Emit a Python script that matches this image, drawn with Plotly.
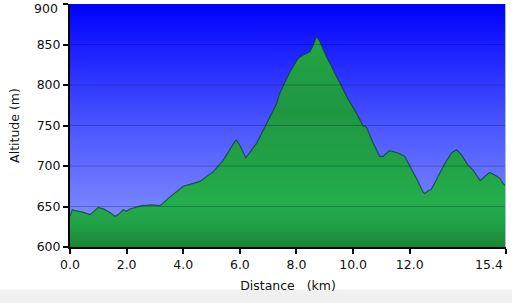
import plotly.graph_objects as go

distance_km = [0.0, 0.08, 0.18, 0.45, 0.71, 1.0, 1.18, 1.4, 1.59, 1.7, 1.88, 2.0, 2.12, 2.53,
               2.88, 3.18, 3.47, 3.7, 4.0, 4.3, 4.59, 5.06, 5.41, 5.82, 5.88, 6.02, 6.21,
               6.59, 6.94, 7.3, 7.41, 7.77, 8.06, 8.24, 8.47, 8.59, 8.71, 8.82, 9.06,
               9.41, 9.77, 10.12, 10.35, 10.47, 10.71, 10.94, 11.06, 11.29, 11.59, 11.82,
               12.06, 12.29, 12.47, 12.53, 12.68, 12.76, 13.0, 13.24, 13.47, 13.65, 13.82,
               14.06, 14.24, 14.35, 14.49, 14.65, 14.82, 15.0, 15.18, 15.29, 15.4]
altitude_m = [638, 646, 645, 643, 640, 649, 647, 643, 638, 640, 646, 644, 647, 651,
              652, 651, 660, 667, 675, 678, 681, 693, 707, 730, 732, 724, 710,
              728, 753, 777, 790, 816, 833, 837, 841, 849, 860, 854, 835,
              810, 786, 765, 750, 748, 728, 712, 712, 719, 716, 712,
              697, 681, 668, 666, 670, 671, 687, 703, 716, 720, 714,
              701, 695, 689, 682, 687, 692, 689, 685, 679, 675]

x_ticks = [0.0, 2.0, 4.0, 6.0, 8.0, 10.0, 12.0, 15.4]
x_tick_labels = ["0.0", "2.0", "4.0", "6.0", "8.0", "10.0", "12.0", "15.4"]
y_ticks = [600, 650, 700, 750, 800, 850, 900]
y_tick_labels = ["600", "650", "700", "750", "800", "850", "900"]
x_range = [0.0, 15.4]
y_range = [600, 900]

font = "DejaVu Sans, Verdana, sans-serif"
fsize = 12.5

fig = go.Figure()

# blue gradient plot background
fig.add_trace(go.Scatter(
    x=[x_range[0], x_range[1], x_range[1], x_range[0], x_range[0]],
    y=[y_range[0], y_range[0], y_range[1], y_range[1], y_range[0]],
    mode="none", fill="toself", hoverinfo="skip", showlegend=False,
    fillgradient=dict(type="vertical", start=y_range[0], stop=y_range[1],
                      colorscale=[[0, "#8c9aff"], [0.5, "#4a56ff"], [1, "#0000ff"]]),
))

# green altitude profile
fig.add_trace(go.Scatter(
    x=distance_km, y=altitude_m, mode="lines",
    line=dict(color="rgba(20,60,50,0.75)", width=1.2),
    fill="tozeroy", hoverinfo="skip", showlegend=False,
    fillgradient=dict(type="vertical", start=600, stop=860,
                      colorscale=[[0, "#1b8436"], [0.1, "#20a045"], [0.22, "#24ae4c"],
                                  [0.4, "#21a247"], [0.65, "#1f9741"], [1, "#23a646"]]),
))

shapes = []
for yv in y_ticks[1:-1]:
    shapes.append(dict(type="line", xref="x", yref="y", x0=x_range[0], x1=x_range[1],
                       y0=yv, y1=yv, line=dict(color="rgba(0,0,40,0.25)", width=1),
                       layer="above"))
# right edge line
shapes.append(dict(type="line", xref="x", yref="paper", x0=x_range[1], x1=x_range[1],
                   y0=0, y1=1, line=dict(color="#9cc8c8", width=2), layer="above"))
# bottom grey strip
shapes.append(dict(type="rect", xref="paper", yref="paper", x0=-0.2, x1=1.05,
                   y0=-0.232, y1=-0.176, fillcolor="#f0f0f0", line=dict(width=0),
                   layer="below"))

# edge tick labels drawn as annotations so they stay inside the page
annotations = [
    dict(x=x_ticks[-1], y=0, xref="x", yref="paper", text=x_tick_labels[-1],
         xanchor="right", yanchor="middle", xshift=-1, yshift=-17, showarrow=False,
         font=dict(family=font, size=fsize, color="#111")),
    dict(x=0, y=y_ticks[-1], xref="paper", yref="y", text=y_tick_labels[-1],
         xanchor="right", yanchor="middle", xshift=-10, yshift=-4, showarrow=False,
         font=dict(family=font, size=fsize, color="#111")),
]

fig.update_layout(
    width=512, height=303,
    margin=dict(l=70, r=6, t=4, b=56),
    paper_bgcolor="white", plot_bgcolor="white",
    font=dict(family=font, size=fsize, color="#111"),
    shapes=shapes, annotations=annotations,
    xaxis=dict(range=x_range, tickvals=x_ticks, ticktext=x_tick_labels[:-1] + [""],
               showgrid=False, zeroline=False, showline=True, linecolor="black",
               linewidth=2, ticks="outside", ticklen=5, tickwidth=2, tickcolor="black",
               automargin=False,
               title=dict(text="Distance&nbsp;&nbsp;&nbsp;(km)", standoff=10,
                          font=dict(size=fsize)),
               tickfont=dict(size=fsize)),
    yaxis=dict(range=y_range, tickvals=y_ticks, ticktext=y_tick_labels[:-1] + [""],
               showgrid=False, zeroline=False,
               showline=True, linecolor="black", linewidth=2, ticks="outside",
               ticklen=5, tickwidth=2, tickcolor="black",
               automargin=False,
               title=dict(text="Altitude (m)", standoff=14, font=dict(size=fsize)),
               tickfont=dict(size=fsize)),
)

fig.write_html("out.html")
